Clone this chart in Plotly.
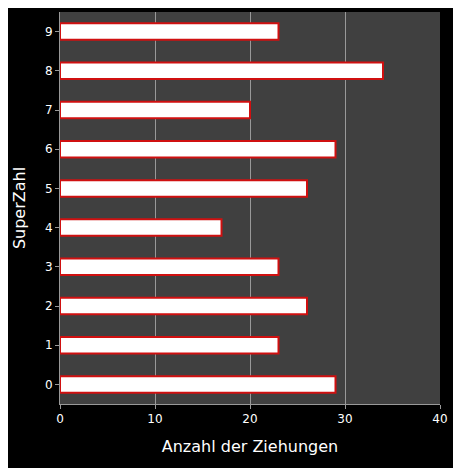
import plotly.graph_objects as go

superzahl = ["0", "1", "2", "3", "4", "5", "6", "7", "8", "9"]
anzahl = [29, 23, 26, 23, 17, 26, 29, 20, 34, 23]

fig = go.Figure(go.Bar(
    x=anzahl, y=superzahl, orientation="h", width=0.42,
    marker=dict(color="white", line=dict(color="#d01010", width=2)),
))

fig.update_layout(
    width=461, height=468,
    paper_bgcolor="black", plot_bgcolor="#404040",
    margin=dict(l=52, r=29, t=4, b=72),
    font=dict(family="DejaVu Sans", color="white", size=12),
    showlegend=False,
)
fig.update_xaxes(range=[0, 40], dtick=10, showgrid=True, gridcolor="#999999", gridwidth=1,
                 zeroline=False, ticks="outside", tickcolor="#999999", ticklen=4,
                 title=dict(text="Anzahl der Ziehungen", font=dict(size=16)),
                 showline=True, linecolor="#999999")
fig.update_yaxes(type="category", showgrid=False, ticks="outside", tickcolor="#999999", ticklen=4,
                 title=dict(text="SuperZahl", font=dict(size=16)),
                 showline=True, linecolor="#999999")

fig.write_html("out.html")
